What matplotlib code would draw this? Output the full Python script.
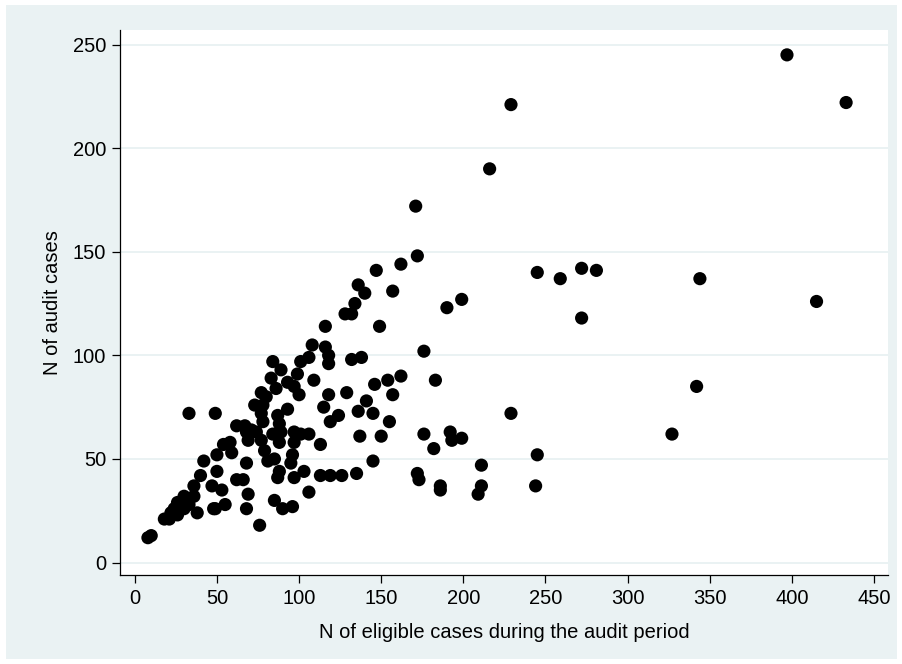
import matplotlib.pyplot as plt
from matplotlib.patches import Rectangle

# eligible cases (x) and audit cases (y) per unit
eligible = [397, 433, 229, 216, 171, 172, 162, 245, 259, 272, 281, 344, 415, 272,
            199, 190, 176, 162, 183, 342, 229, 176, 192, 193, 199, 182, 327, 245,
            211, 172, 173, 186, 186, 211, 209, 244,
            147, 136, 140, 157, 134, 128, 132, 149, 116, 108, 116, 118, 118, 132,
            138, 109, 118, 129, 146, 154, 157, 141, 115, 124, 119, 136, 145, 155,
            137, 150, 145, 135, 126, 119, 113, 103, 106,
            101, 106, 84, 89, 99, 83, 93, 97, 86, 100, 77, 80, 73, 78, 93, 77, 87,
            33, 49, 78, 88, 62, 67, 71, 68, 74, 84, 89, 97, 101, 106, 69, 77, 88,
            97, 113, 54, 58, 79, 50, 59, 96, 81, 85, 42, 68, 95, 50, 40, 88, 87,
            97, 62, 66, 36, 47, 53, 30, 36, 69, 26, 33, 55, 85, 24, 30, 48, 68,
            90, 96, 22, 26, 38, 49, 18, 21, 76, 10, 8]
audit = [245, 222, 221, 190, 172, 148, 144, 140, 137, 142, 141, 137, 126, 118,
         127, 123, 102, 90, 88, 85, 72, 62, 63, 59, 60, 55, 62, 52,
         47, 43, 40, 37, 35, 37, 33, 37,
         141, 134, 130, 131, 125, 120, 120, 114, 114, 105, 104, 100, 96, 98,
         99, 88, 81, 82, 86, 88, 81, 78, 75, 71, 68, 73, 72, 68,
         61, 61, 49, 43, 42, 42, 42, 44, 34,
         97, 99, 97, 93, 91, 89, 87, 85, 84, 81, 82, 80, 76, 76, 74, 72, 71,
         72, 72, 68, 67, 66, 66, 64, 63, 63, 62, 63, 63, 62, 62, 59, 59, 58,
         58, 57, 57, 58, 54, 52, 53, 52, 49, 50, 49, 48, 48, 44, 42, 44, 41,
         41, 40, 40, 37, 37, 35, 32, 32, 33, 29, 28, 28, 30, 26, 26, 26, 26,
         26, 27, 24, 23, 24, 26, 21, 21, 18, 13, 12]

xticks = list(range(0, 451, 50))
yticks = list(range(0, 251, 50))

bg = '#eaf2f3'
plt.rcParams['font.family'] = ['Liberation Sans', 'DejaVu Sans']

fig = plt.figure(figsize=(9.03, 6.64), dpi=100, facecolor='white')
# tinted panel behind everything, leaving a thin white margin
fig.patches.append(Rectangle((6 / 903, 5 / 664), 891 / 903, 654 / 664,
                             transform=fig.transFigure, facecolor=bg,
                             edgecolor='none', zorder=-5))
ax = fig.add_axes([120 / 903, 1 - 575 / 664, 768 / 903, 545 / 664])
ax.set_zorder(1)
ax.set_facecolor('white')

ax.scatter(eligible, audit, s=90, color='black', edgecolors='none', zorder=3)

ax.set_xlim(-9, 458.5)
ax.set_ylim(-6, 257)
ax.set_xticks(xticks)
ax.set_yticks(yticks)
ax.grid(axis='y', color=bg, linewidth=1.4, zorder=0)
ax.set_axisbelow(True)

for side in ['top', 'right']:
    ax.spines[side].set_visible(False)
for side in ['left', 'bottom']:
    ax.spines[side].set_color('black')
    ax.spines[side].set_linewidth(0.9)
ax.tick_params(direction='out', length=6, width=0.9, labelsize=14.5, pad=4)

ax.set_xlabel('N of eligible cases during the audit period', fontsize=14.5, labelpad=11)
ax.set_ylabel('N of audit cases', fontsize=14.5, labelpad=8)

fig.savefig('out.png', dpi=100, facecolor=fig.get_facecolor())
